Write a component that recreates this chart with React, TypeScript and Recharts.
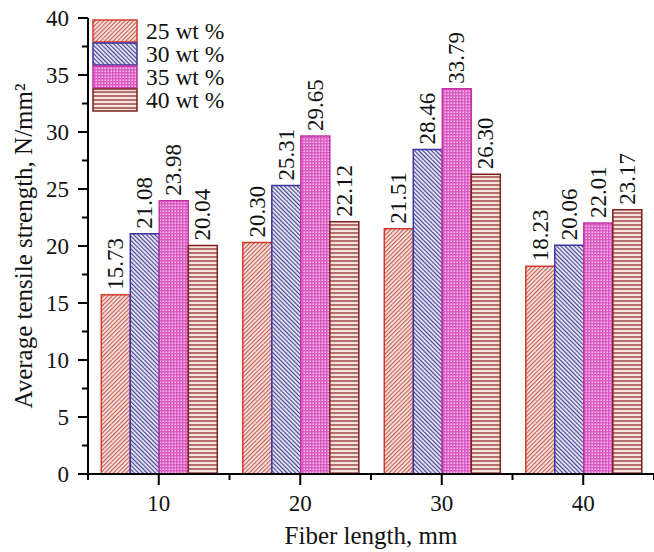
import React from "react";
import { BarChart, Bar, XAxis, YAxis, Legend, LabelList, Label } from "recharts";

const fiberLengths = ["10", "20", "30", "40"];
const wt25 = [15.73, 20.3, 21.51, 18.23];
const wt30 = [21.08, 25.31, 28.46, 20.06];
const wt35 = [23.98, 29.65, 33.79, 22.01];
const wt40 = [20.04, 22.12, 26.3, 23.17];
const yTicks = [0, 2.5, 5, 7.5, 10, 12.5, 15, 17.5, 20, 22.5, 25, 27.5, 30, 32.5, 35, 37.5, 40];

const FONT = "'Liberation Serif', 'Times New Roman', serif";

const series = [
  { key: "wt25", name: "25 wt %", stroke: "#d33a2c", pat: "p25" },
  { key: "wt30", name: "30 wt %", stroke: "#3a36a0", pat: "p30" },
  { key: "wt35", name: "35 wt %", stroke: "#c232a6", pat: "p35" },
  { key: "wt40", name: "40 wt %", stroke: "#7c1f1f", pat: "p40" },
];

const data = fiberLengths.map((len, i) => ({
  length: len,
  wt25: wt25[i],
  wt30: wt30[i],
  wt35: wt35[i],
  wt40: wt40[i],
}));

const Patterns = ({ prefix }: { prefix: string }) => (
  <defs>
    <pattern id={`${prefix}p25`} width="3" height="3" patternUnits="userSpaceOnUse" patternTransform="rotate(45)">
      <rect width="3" height="3" fill="#fae4df" />
      <line x1="0.6" y1="0" x2="0.6" y2="3" stroke="#c0584f" strokeWidth="1.1" />
    </pattern>
    <pattern id={`${prefix}p30`} width="3" height="3" patternUnits="userSpaceOnUse" patternTransform="rotate(-45)">
      <rect width="3" height="3" fill="#eceaf8" />
      <line x1="0.6" y1="0" x2="0.6" y2="3" stroke="#3c3a8c" strokeWidth="1.1" />
    </pattern>
    <pattern id={`${prefix}p35`} width="3" height="3" patternUnits="userSpaceOnUse">
      <rect width="3" height="3" fill="#da5cc2" />
      <rect x="0.5" y="0.5" width="1.5" height="1.5" fill="#f6c0ea" />
    </pattern>
    <pattern id={`${prefix}p40`} width="4" height="4" patternUnits="userSpaceOnUse">
      <rect width="4" height="4" fill="#f8e2dc" />
      <line x1="0" y1="1" x2="4" y2="1" stroke="#8a3030" strokeWidth="1.3" />
    </pattern>
  </defs>
);

const YTick = (props: any) => {
  const { x, y, payload } = props;
  const major = payload.value % 5 === 0;
  return (
    <g>
      <line x1={x - (major ? 10 : 6)} y1={y} x2={x} y2={y} stroke="#000" strokeWidth={2} />
      {major && (
        <text x={x - 19} y={y} textAnchor="end" dominantBaseline="central" fontSize={23} fontFamily={FONT} fill="#111">
          {payload.value}
        </text>
      )}
    </g>
  );
};

const XTick = (props: any) => {
  const { x, y, payload, index, visibleTicksCount } = props;
  const half = payload.offset || 70.75;
  const last = index === (visibleTicksCount || 4) - 1;
  return (
    <g>
      <line x1={x} y1={y} x2={x} y2={y + 11} stroke="#000" strokeWidth={2} />
      <line x1={x - half} y1={y} x2={x - half} y2={y + 6} stroke="#000" strokeWidth={2} />
      {last && <line x1={x + half} y1={y} x2={x + half} y2={y + 6} stroke="#000" strokeWidth={2} />}
      <text x={x} y={y + 29} textAnchor="middle" dominantBaseline="central" fontSize={23} fontFamily={FONT} fill="#111">
        {payload.value}
      </text>
    </g>
  );
};

const ValueLabel = (props: any) => {
  const { x, y, width, value } = props;
  const cx = x + width / 2;
  const ty = y - 5;
  return (
    <text
      x={cx}
      y={ty}
      transform={`rotate(-90 ${cx} ${ty})`}
      textAnchor="start"
      dominantBaseline="central"
      fontSize={23}
      fontFamily={FONT}
      fill="#111"
    >
      {Number(value).toFixed(2)}
    </text>
  );
};

const YTitle = (props: any) => {
  const vb = props.viewBox || { y: 18, height: 456 };
  const cy = vb.y + vb.height / 2;
  return (
    <text x={23} y={cy} transform={`rotate(-90 23 ${cy})`} textAnchor="middle" dominantBaseline="central" fontSize={25} fontFamily={FONT} fill="#111">
      Average tensile strength, N/mm²
    </text>
  );
};

const LegendBox = () => (
  <svg width={160} height={96} style={{ display: "block" }}>
    <Patterns prefix="lg" />
    {series.map((s, i) => (
      <g key={s.key}>
        <rect x={1} y={1 + i * 23} width={44} height={22} fill={`url(#lg${s.pat})`} stroke={s.stroke} strokeWidth={1.5} />
        <text x={54} y={12 + i * 23} dominantBaseline="central" fontSize={23.5} fontFamily={FONT} fill="#111">
          {s.name}
        </text>
      </g>
    ))}
  </svg>
);

export default function App() {
  return (
    <div style={{ position: "absolute", left: 0, top: 0, width: 654, height: 552, background: "#fff" }}>
      <BarChart
        width={654}
        height={552}
        data={data}
        margin={{ top: 18, right: 0, bottom: 0, left: 0 }}
        barCategoryGap="9.4%"
        barGap={0}
      >
        <Patterns prefix="ch" />
        <XAxis
          dataKey="length"
          height={78}
          interval={0}
          tickLine={false}
          tickSize={0}
          tickMargin={0}
          axisLine={{ stroke: "#000", strokeWidth: 2 }}
          tick={<XTick />}
        >
          <Label
            value="Fiber length, mm"
            position="insideBottom"
            offset={8}
            fontSize={25}
            fontFamily={FONT}
            fill="#111"
          />
        </XAxis>
        <XAxis
          xAxisId="top"
          dataKey="length"
          orientation="top"
          height={0}
          tick={false}
          tickLine={false}
          axisLine={{ stroke: "#000", strokeWidth: 2 }}
        />
        <YAxis
          type="number"
          domain={[0, 40]}
          ticks={yTicks}
          interval={0}
          width={88}
          tickLine={false}
          tickSize={0}
          tickMargin={0}
          axisLine={{ stroke: "#000", strokeWidth: 2 }}
          tick={<YTick />}
        >
          <Label content={<YTitle />} />
        </YAxis>
        <Legend
          layout="vertical"
          align="center"
          verticalAlign="middle"
          wrapperStyle={{ left: 92, top: 19, width: 160 }}
          content={() => <LegendBox />}
        />
        {series.map((s) => (
          <Bar
            key={s.key}
            dataKey={s.key}
            name={s.name}
            fill={`url(#ch${s.pat})`}
            stroke={s.stroke}
            strokeWidth={1.5}
            isAnimationActive={false}
          >
            <LabelList dataKey={s.key} content={<ValueLabel />} />
          </Bar>
        ))}
      </BarChart>
    </div>
  );
}
